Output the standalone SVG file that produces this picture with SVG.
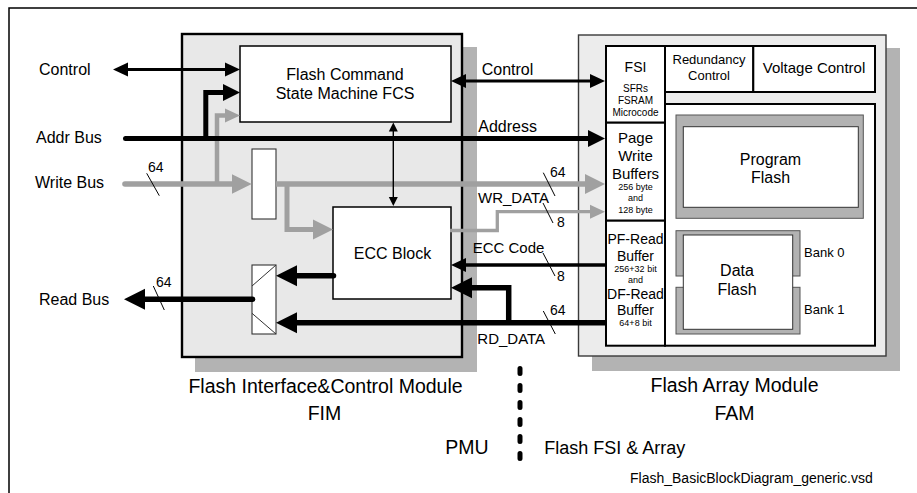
<svg xmlns="http://www.w3.org/2000/svg" width="917" height="493" viewBox="0 0 917 493">
<style>
text{font-family:"Liberation Sans",Arial,Helvetica,sans-serif;fill:#000}
.c{text-anchor:middle}
.e{text-anchor:end}
.shadow{fill:#b3b3b3;stroke:none}
.mod{fill:#e8e8e8;stroke:#000;stroke-width:2.4}
.fam{fill:#ececec;stroke:#3a3a3a;stroke-width:1.4}
.box{fill:#fff;stroke:#000;stroke-width:1.5}
.ibox{fill:#fff;stroke:#000;stroke-width:2}
.reg{fill:#fff;stroke:#333;stroke-width:1.1}
.gframe{fill:#b2b2b2;stroke:#555;stroke-width:1}
.inner{fill:#fff;stroke:#333;stroke-width:1}
.blk{fill:none;stroke:#000}
.gry{fill:none;stroke:#a0a0a0}
.slash{stroke:#000;stroke-width:1;fill:none}
.f16{font-size:16px}
.f15{font-size:15px}
.f14{font-size:14px}
.f13{font-size:13px}
.f10{font-size:10px}
.f9{font-size:9px}
.t{font-size:19.5px}
</style>
<defs>
<marker id="aM" markerUnits="userSpaceOnUse" viewBox="0 -8 16 16" markerWidth="16" markerHeight="16" refX="1" refY="0" orient="auto-start-reverse"><path d="M0,-7 L15,0 L0,7z" fill="#000"/></marker>
<marker id="aB" markerUnits="userSpaceOnUse" viewBox="0 -9 18 18" markerWidth="18" markerHeight="18" refX="1" refY="0" orient="auto-start-reverse"><path d="M0,-8.5 L17,0 L0,8.5z" fill="#000"/></marker>
<marker id="bB" markerUnits="userSpaceOnUse" viewBox="0 -11 22 22" markerWidth="22" markerHeight="22" refX="1" refY="0" orient="auto-start-reverse"><path d="M0,-10.5 L21,0 L0,10.5z" fill="#000"/></marker>
<marker id="aS" markerUnits="userSpaceOnUse" viewBox="0 -5 10 10" markerWidth="10" markerHeight="10" refX="1" refY="0" orient="auto-start-reverse"><path d="M0,-4.5 L9,0 L0,4.5z" fill="#000"/></marker>
<marker id="gB" markerUnits="userSpaceOnUse" viewBox="0 -11 21 22" markerWidth="21" markerHeight="22" refX="1" refY="0" orient="auto-start-reverse"><path d="M0,-10 L20,0 L0,10z" fill="#a0a0a0"/></marker>
<marker id="gS" markerUnits="userSpaceOnUse" viewBox="0 -8 16 16" markerWidth="16" markerHeight="16" refX="1" refY="0" orient="auto-start-reverse"><path d="M0,-7 L15,0 L0,7z" fill="#a0a0a0"/></marker>
</defs>

<path d="M9,493 V8 H917" fill="none" stroke="#000" stroke-width="1.5"/>

<g id="fim">
<rect class="shadow" x="195" y="47" width="282" height="325"/>
<rect class="mod" x="182" y="34" width="280" height="323"/>
<text class="t c" x="325.5" y="392.5">Flash Interface&amp;Control Module</text>
<text class="t c" x="324.5" y="420">FIM</text>
</g>

<g id="fam">
<rect class="shadow" x="592" y="48" width="308" height="323"/>
<rect class="fam" x="578.5" y="35" width="307.5" height="321"/>
<text class="t c" x="734.5" y="392">Flash Array Module</text>
<text class="t c" x="734.5" y="420">FAM</text>
</g>

<g id="fcs">
<rect class="box" x="240" y="46" width="211" height="76"/>
<text class="f16 c" x="345" y="79.5">Flash Command</text>
<text class="f16 c" x="345" y="98.5">State Machine FCS</text>
</g>

<g id="register">
<rect class="reg" x="252" y="149" width="24" height="70"/>
</g>

<g id="ecc">
<rect class="box" x="333" y="207" width="118" height="92"/>
<text class="f16 c" x="392.5" y="259">ECC Block</text>
</g>

<g id="mux">
<rect class="reg" x="252" y="265" width="24" height="69"/>
<path d="M276,265 L252,286 M252,313.3 L276,334" stroke="#333" stroke-width="1" fill="none"/>
</g>

<g id="fsi">
<rect class="ibox" x="606" y="46" width="59" height="76.7"/>
<text class="f14 c" x="635.5" y="71.7">FSI</text>
<text class="f10 c" x="635.5" y="91.7">SFRs</text>
<text class="f10 c" x="635.5" y="104">FSRAM</text>
<text class="f10 c" x="635.5" y="116">Microcode</text>
</g>

<g id="page-write-buffers">
<rect class="ibox" x="606" y="122.7" width="59" height="98"/>
<text class="f15 c" x="635.5" y="143">Page</text>
<text class="f15 c" x="635.5" y="161">Write</text>
<text class="f15 c" x="635.5" y="179">Buffers</text>
<text class="f9 c" x="635.5" y="189.5">256 byte</text>
<text class="f9 c" x="635.5" y="201">and</text>
<text class="f9 c" x="635.5" y="212.5">128 byte</text>
</g>

<g id="read-buffers">
<rect class="ibox" x="606" y="220.7" width="59" height="125"/>
<text class="f14 c" x="635.5" y="244.3">PF-Read</text>
<text class="f14 c" x="635.5" y="260.7">Buffer</text>
<text class="f9 c" x="635.5" y="271.5">256+32 bit</text>
<text class="f9 c" x="635.5" y="282.5">and</text>
<text class="f14 c" x="635.5" y="299.3">DF-Read</text>
<text class="f14 c" x="635.5" y="315">Buffer</text>
<text class="f9 c" x="635.5" y="326">64+8 bit</text>
</g>

<g id="redundancy-control">
<rect class="ibox" x="665" y="46" width="88.3" height="46"/>
<text class="f13 c" x="709" y="63.5">Redundancy</text>
<text class="f13 c" x="709" y="79.5">Control</text>
</g>

<g id="voltage-control">
<rect class="ibox" x="753.3" y="46" width="121.7" height="46"/>
<text class="f15 c" x="814" y="73">Voltage Control</text>
</g>

<g id="flash-array">
<rect class="ibox" x="665" y="104" width="210" height="241.7"/>
</g>

<g id="program-flash">
<rect class="gframe" x="676" y="115" width="187.3" height="103.3"/>
<rect class="inner" x="683.3" y="126.7" width="175" height="80.6"/>
<text class="f16 c" x="770.5" y="164.5">Program</text>
<text class="f16 c" x="770.5" y="182.5">Flash</text>
</g>

<g id="data-flash">
<rect class="gframe" x="676" y="230.7" width="124" height="45.3"/>
<rect class="gframe" x="676" y="287.3" width="124" height="46.7"/>
<rect class="inner" x="683.3" y="235" width="109.4" height="94.3"/>
<text class="f16 c" x="737" y="276">Data</text>
<text class="f16 c" x="737" y="295">Flash</text>
<text class="f13" x="804" y="256.7">Bank 0</text>
<text class="f13" x="804" y="314">Bank 1</text>
</g>

<g id="connectors">
<!-- gray write paths -->
<path class="gry" d="M125,184 H232.7" stroke-width="5.6" stroke-linecap="round" marker-end="url(#gB)"/>
<path class="gry" d="M217,184 V115.5 H226" stroke-width="4.5" marker-end="url(#gS)"/>
<path class="gry" d="M276,184 H586" stroke-width="5.6" marker-end="url(#gB)"/>
<path class="gry" d="M287,184 V229.5 H314" stroke-width="5" marker-end="url(#gB)"/>
<path class="gry" d="M450,230.5 H497.3 V211.7 H591" stroke-width="3.3" marker-end="url(#gS)"/>
<!-- black -->
<path class="blk" d="M127,69.5 H226" stroke-width="3" marker-start="url(#aM)" marker-end="url(#aM)"/>
<path class="blk" d="M465,81 H591" stroke-width="3" marker-start="url(#aM)" marker-end="url(#aM)"/>
<path class="blk" d="M125.5,138.5 H589" stroke-width="5" stroke-linecap="round" marker-end="url(#aB)"/>
<path class="blk" d="M205.8,138.5 V92.5 H224" stroke-width="5" marker-end="url(#aB)"/>
<path class="blk" d="M606,265 H465" stroke-width="3.3" marker-end="url(#aM)"/>
<path class="blk" d="M606,322.7 H296" stroke-width="5.5" marker-end="url(#bB)"/>
<path class="blk" d="M508.7,322.7 V287.8 H471" stroke-width="5.5" marker-end="url(#bB)"/>
<path class="blk" d="M333.5,275.8 H296" stroke-width="5.5" stroke-linecap="round" marker-end="url(#bB)"/>
<path class="blk" d="M252.5,299.2 H144" stroke-width="5.5" stroke-linecap="round" marker-end="url(#bB)"/>
<path class="blk" d="M393.3,130.5 V198" stroke-width="1.4" marker-start="url(#aS)" marker-end="url(#aS)"/>
<!-- bus width slashes -->
<path class="slash" d="M146.7,173.3 L159.3,195.7 M153.3,286 L164.3,310 M543.3,172.7 L555,196 M543,203 L553,223 M543,253 L555,276 M543.3,311 L555.3,334"/>
</g>

<g id="labels">
<text class="f16" x="39" y="75">Control</text>
<text class="f16" x="36" y="142.7">Addr Bus</text>
<text class="f16" x="35" y="188.3">Write Bus</text>
<text class="f16" x="39" y="305">Read Bus</text>
<text class="f14" x="148" y="171.5">64</text>
<text class="f14" x="156" y="287">64</text>
<text class="f16" x="481.7" y="75">Control</text>
<text class="f16" x="478.3" y="131.7">Address</text>
<text class="f14" x="550" y="176.7">64</text>
<text class="f15" x="478" y="202.7">WR_DATA</text>
<text class="f14" x="557" y="227.3">8</text>
<text class="f15" x="472.7" y="253.3">ECC Code</text>
<text class="f14" x="557" y="281">8</text>
<text class="f14" x="550" y="315">64</text>
<text class="f15" x="477.3" y="344">RD_DATA</text>
<text class="t e" x="488.7" y="453.5">PMU</text>
<text x="544.2" y="453.5" style="font-size:18px">Flash FSI &amp; Array</text>
<text class="f14" x="630" y="483.3">Flash_BasicBlockDiagram_generic.vsd</text>
</g>

<path d="M520,368.5 V461" stroke="#000" stroke-width="5" stroke-linecap="round" stroke-dasharray="5 12" fill="none"/>
</svg>
